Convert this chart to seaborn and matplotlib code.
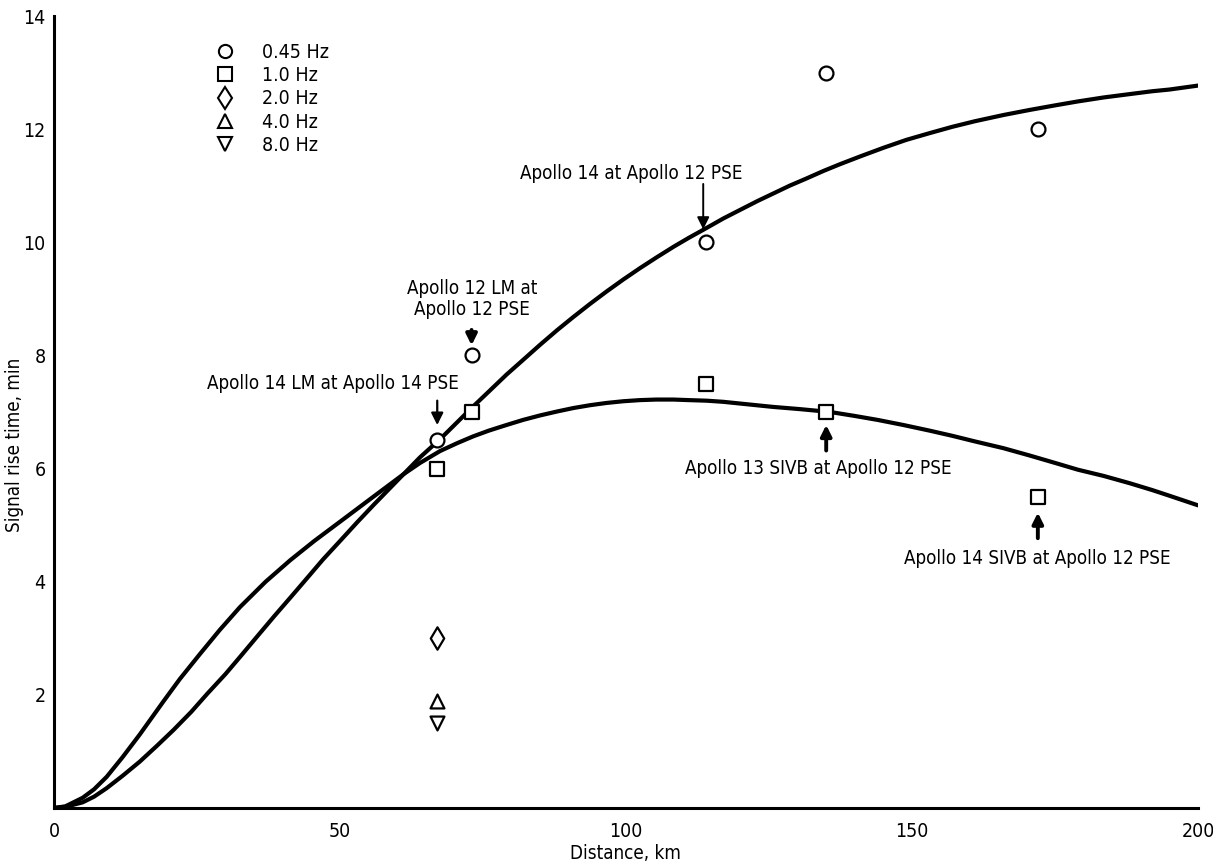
import matplotlib
matplotlib.use("Agg")
import matplotlib.pyplot as plt
from matplotlib.lines import Line2D
import seaborn as sns

# ---- data ----
dist_045 = [67, 73, 114, 135, 172]
rise_045 = [6.5, 8.0, 10.0, 13.0, 12.0]
dist_10 = [67, 73, 114, 135, 172]
rise_10 = [6.0, 7.0, 7.5, 7.0, 5.5]
dist_20 = [67]
rise_20 = [3.0]
dist_40 = [67]
rise_40 = [1.9]
dist_80 = [67]
rise_80 = [1.5]

# fitted curve through 0.45 Hz points
curveA_x = [0, 2, 5, 7, 9.2, 12, 15, 18, 20.9, 24, 26.8, 30, 32.6, 35.5, 38.5, 41.5, 44.3,
            47, 50.1, 53, 55.9, 58.5, 61.1, 64, 67.5, 70.5, 73.3, 76, 79.1, 82, 85, 88,
            90.8, 93.7, 96.6, 99.5, 102.4, 105.3, 108.3, 111, 113.5, 117, 119.9, 123,
            125.7, 128.6, 131.6, 134.5, 137.4, 141, 145, 149, 153.1, 157, 161, 166,
            170.6, 175, 179, 183.5, 188.1, 192, 195, 200]
curveA_y = [0, 0.02, 0.10, 0.20, 0.35, 0.57, 0.82, 1.10, 1.38, 1.70, 2.02, 2.37, 2.68, 3.03,
            3.39, 3.74, 4.07, 4.39, 4.73, 5.05, 5.36, 5.63, 5.90, 6.20, 6.52, 6.82, 7.10,
            7.36, 7.66, 7.92, 8.19, 8.45, 8.68, 8.91, 9.13, 9.34, 9.54, 9.73, 9.92, 10.08,
            10.22, 10.42, 10.57, 10.73, 10.86, 11.00, 11.13, 11.26, 11.38, 11.52, 11.67,
            11.81, 11.93, 12.04, 12.14, 12.25, 12.34, 12.42, 12.49, 12.56, 12.62, 12.67,
            12.70, 12.77]
# fitted curve through 1.0 Hz points
curveB_x = [0, 2, 5, 7, 9.2, 12, 15, 19.1, 22, 25.5, 29, 32.5, 37, 41.3, 45.5, 50, 55.8,
            61.1, 64, 67.5, 70.5, 73.3, 76, 79.1, 82, 85, 88, 90.8, 93.7, 96.6, 99.5,
            102.4, 105.3, 108.3, 111, 114.1, 117, 119.9, 122.8, 125.7, 130.5, 135.7, 140,
            144, 148.5, 153.1, 157, 161, 166, 170.6, 175, 179, 183.5, 188.1, 192, 195, 200]
curveB_y = [0, 0.03, 0.18, 0.33, 0.55, 0.90, 1.30, 1.88, 2.28, 2.72, 3.15, 3.55, 4.00, 4.38,
            4.72, 5.06, 5.50, 5.90, 6.10, 6.31, 6.45, 6.57, 6.67, 6.77, 6.86, 6.94, 7.01,
            7.07, 7.12, 7.16, 7.19, 7.21, 7.22, 7.22, 7.21, 7.20, 7.18, 7.15, 7.12, 7.09,
            7.05, 7.00, 6.93, 6.86, 6.77, 6.67, 6.58, 6.48, 6.36, 6.23, 6.10, 5.98, 5.87,
            5.74, 5.62, 5.52, 5.35]

legend_labels = ["0.45 Hz", "1.0 Hz", "2.0 Hz", "4.0 Hz", "8.0 Hz"]
x_ticks = [0, 50, 100, 150, 200]
y_ticks = [2, 4, 6, 8, 10, 12, 14]

# ---- style ----
sns.set_style("white")
plt.rcParams["font.family"] = ["Liberation Sans Narrow", "DejaVu Sans"]
plt.rcParams["font.stretch"] = "condensed"
for key in ["text.color", "axes.labelcolor", "xtick.color", "ytick.color"]:
    plt.rcParams[key] = "black"

fig = plt.figure(figsize=(12.13, 8.61), dpi=100)
ax = fig.add_axes([54 / 1213, 1 - 808 / 861, 1144 / 1213, 792 / 861])

sns.lineplot(x=curveA_x, y=curveA_y, ax=ax, color="black", lw=3, sort=False, estimator=None)
sns.lineplot(x=curveB_x, y=curveB_y, ax=ax, color="black", lw=3, sort=False, estimator=None)

series = [
    (dist_045, rise_045, "o", 100),
    (dist_10, rise_10, "s", 90),
    (dist_20, rise_20, "d", 130),
    (dist_40, rise_40, "^", 100),
    (dist_80, rise_80, "v", 100),
]
for xs, ys, m, s in series:
    sns.scatterplot(x=xs, y=ys, ax=ax, marker=m, s=s, facecolor="white",
                    edgecolor="black", linewidth=1.6, zorder=5)

ax.set_xlim(0, 200)
ax.set_ylim(0, 14)
ax.set_xticks(x_ticks)
ax.set_yticks(y_ticks)
ax.set_xticklabels([str(v) for v in x_ticks])
ax.set_yticklabels([str(v) for v in y_ticks])
ax.tick_params(axis="both", direction="in", length=12, width=1.3, labelsize=14, colors="black")
ax.tick_params(axis="x", pad=10)
ax.tick_params(axis="y", pad=6)
for side in ["top", "right"]:
    ax.spines[side].set_visible(False)
for side in ["left", "bottom"]:
    ax.spines[side].set_linewidth(2.2)
    ax.spines[side].set_color("black")

ax.set_xlabel("Distance, km", fontsize=13.5)
ax.set_ylabel("Signal rise time, min", fontsize=13.5)
ax.xaxis.set_label_coords((625 - 54) / 1144, -0.045)
ax.yaxis.set_label_coords(-0.026, (808 - 445) / 792)

# legend
handles = [Line2D([], [], ls="none", marker=m, ms=9.5 if m != "d" else 11.5, mfc="none",
                  mec="black", mew=1.5) for (_, _, m, _) in series]
ax.legend(handles, legend_labels, loc="upper left", bbox_to_anchor=(0.134, 0.976),
          frameon=False, fontsize=14, handletextpad=1.4, labelspacing=0.22,
          borderaxespad=0, handlelength=1.0)

# annotations
fs = 13.5
ax.text(48.8, 7.5, "Apollo 14 LM at Apollo 14 PSE", ha="center", va="center", fontsize=fs)
ax.annotate("", xy=(67, 6.72), xytext=(67, 7.25),
            arrowprops=dict(arrowstyle="-|>", color="black", lw=1.6, mutation_scale=18))
ax.text(73.1, 9.0, "Apollo 12 LM at\nApollo 12 PSE", ha="center", va="center",
        fontsize=fs, linespacing=1.15)
ax.annotate("", xy=(73, 8.13), xytext=(73, 8.5),
            arrowprops=dict(arrowstyle="-|>", color="black", lw=2.8, mutation_scale=16))
ax.text(100.9, 11.22, "Apollo 14 at Apollo 12 PSE", ha="center", va="center", fontsize=fs)
ax.annotate("", xy=(113.5, 10.18), xytext=(113.5, 11.08),
            arrowprops=dict(arrowstyle="-|>", color="black", lw=1.4, mutation_scale=18))
ax.text(133.6, 6.0, "Apollo 13 SIVB at Apollo 12 PSE", ha="center", va="center", fontsize=fs)
ax.annotate("", xy=(135, 6.82), xytext=(135, 6.27),
            arrowprops=dict(arrowstyle="-|>", color="black", lw=2.8, mutation_scale=16))
ax.text(171.9, 4.41, "Apollo 14 SIVB at Apollo 12 PSE", ha="center", va="center", fontsize=fs)
ax.annotate("", xy=(172, 5.27), xytext=(172, 4.72),
            arrowprops=dict(arrowstyle="-|>", color="black", lw=2.8, mutation_scale=16))

fig.savefig("out.png", dpi=100, facecolor="white")
